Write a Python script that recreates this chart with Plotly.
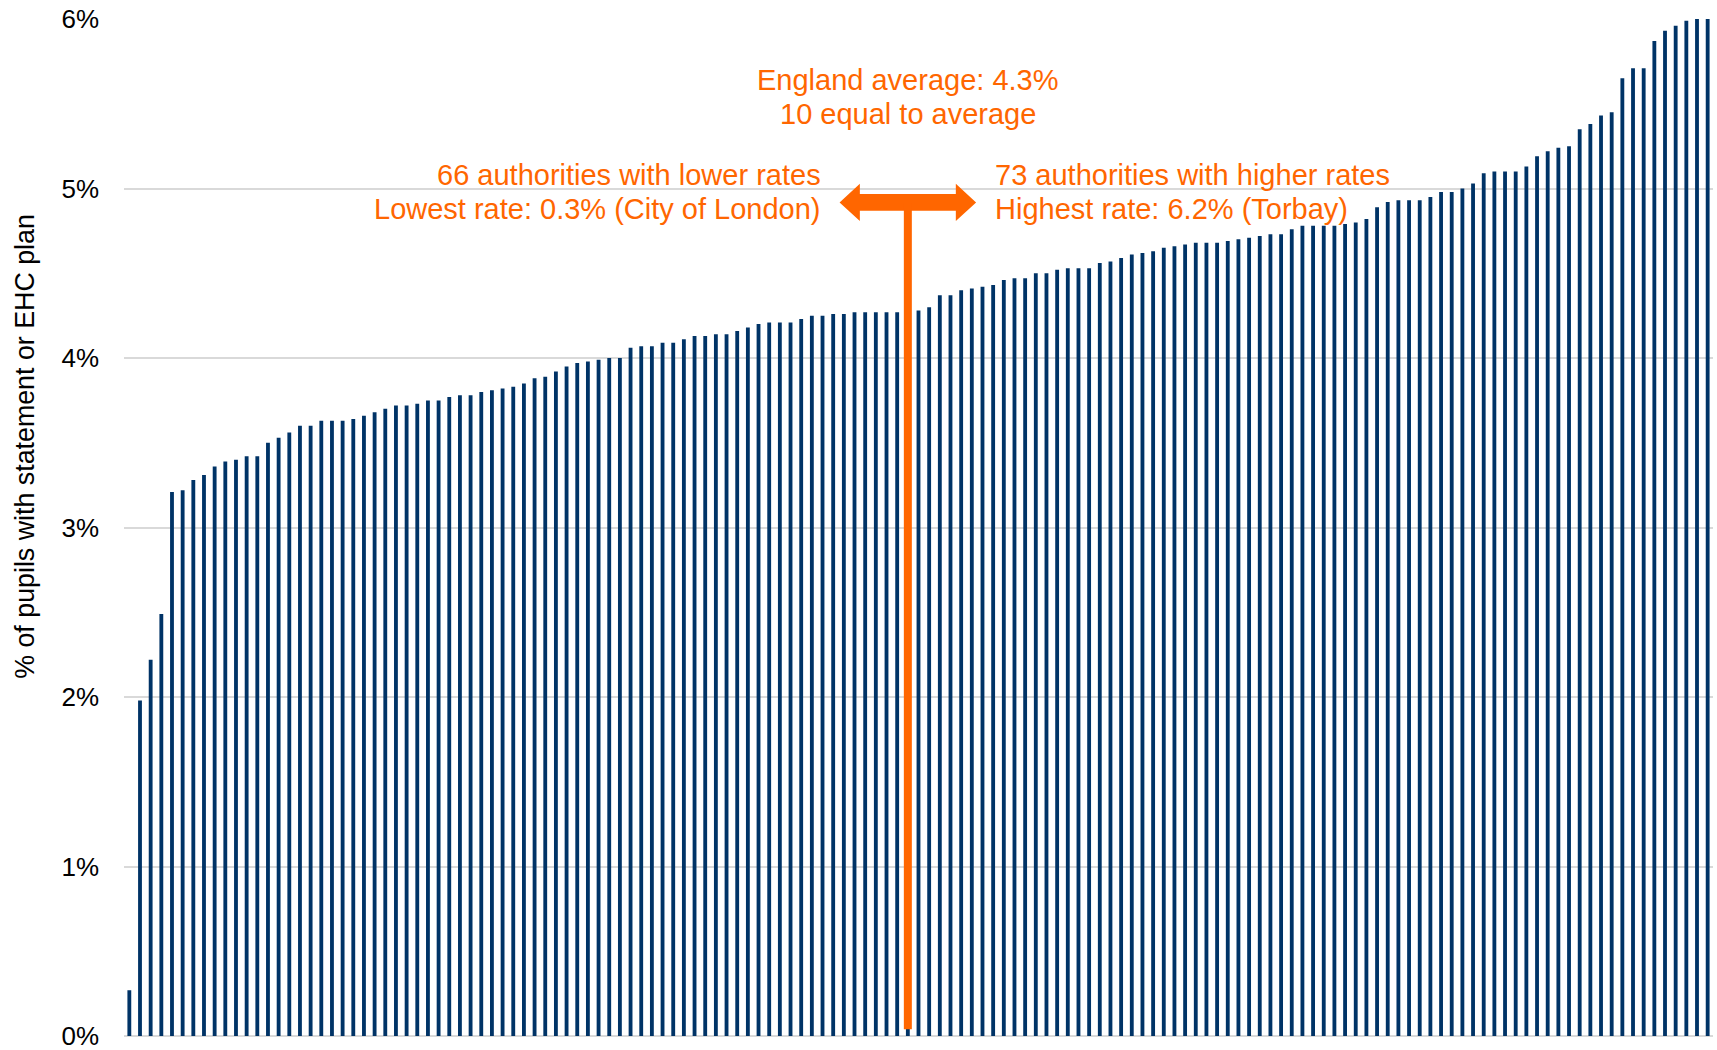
import plotly.graph_objects as go

# % of pupils with statement or EHC plan, local authorities sorted ascending
rates = [
    0.27, 1.98, 2.22, 2.49, 3.21, 3.22, 3.28, 3.31, 3.36, 3.39,
    3.40, 3.42, 3.42, 3.50, 3.53, 3.56, 3.60, 3.60, 3.63, 3.63,
    3.63, 3.64, 3.66, 3.68, 3.70, 3.72, 3.72, 3.73, 3.75, 3.75,
    3.77, 3.78, 3.78, 3.80, 3.81, 3.82, 3.83, 3.85, 3.88, 3.89,
    3.92, 3.95, 3.97, 3.98, 3.99, 4.00, 4.00, 4.06, 4.07, 4.07,
    4.09, 4.09, 4.11, 4.13, 4.13, 4.14, 4.14, 4.16, 4.18, 4.20,
    4.21, 4.21, 4.21, 4.23, 4.25, 4.25, 4.26, 4.26, 4.27, 4.27,
    4.27, 4.27, 4.27, 4.28, 4.28, 4.30, 4.37, 4.37, 4.40, 4.41,
    4.42, 4.43, 4.46, 4.47, 4.47, 4.50, 4.50, 4.52, 4.53, 4.53,
    4.53, 4.56, 4.57, 4.59, 4.61, 4.62, 4.63, 4.65, 4.66, 4.67,
    4.68, 4.68, 4.68, 4.69, 4.70, 4.71, 4.72, 4.73, 4.73, 4.76,
    4.78, 4.78, 4.78, 4.78, 4.79, 4.80, 4.82, 4.89, 4.92, 4.93,
    4.93, 4.93, 4.95, 4.98, 4.98, 5.00, 5.03, 5.09, 5.10, 5.10,
    5.10, 5.13, 5.19, 5.22, 5.24, 5.25, 5.35, 5.38, 5.43, 5.45,
    5.65, 5.71, 5.71, 5.87, 5.93, 5.96, 5.99, 6.05, 6.20,
]
ranks = list(range(1, len(rates) + 1))

y_ticks = [0, 1, 2, 3, 4, 5, 6]
y_tick_labels = ["0%", "1%", "2%", "3%", "4%", "5%", "6%"]

n_lower = 66
n_equal = 10
n_higher = 73
england_avg = 4.3
lowest_text = "0.3% (City of London)"
highest_text = "6.2% (Torbay)"

NAVY = "#003366"
ORANGE = "#FF6600"
GRID = "#d9d9d9"
FONT = "Arial, Liberation Sans, sans-serif"

fig = go.Figure()
fig.add_trace(go.Bar(
    x=ranks, y=rates,
    marker=dict(color=NAVY, line=dict(width=0)),
    hoverinfo="y",
))

# average marker: the bar under the vertical line (middle of the 'equal' group)
avg_pos = n_lower + 8
arrow_y = 4.918
half_span = 6.4
head_len = 1.9
shaft_h = 0.05
head_h = 0.11

path = (
    f"M {avg_pos - half_span},{arrow_y} "
    f"L {avg_pos - half_span + head_len},{arrow_y + head_h} "
    f"L {avg_pos - half_span + head_len},{arrow_y + shaft_h} "
    f"L {avg_pos + half_span - head_len},{arrow_y + shaft_h} "
    f"L {avg_pos + half_span - head_len},{arrow_y + head_h} "
    f"L {avg_pos + half_span},{arrow_y} "
    f"L {avg_pos + half_span - head_len},{arrow_y - head_h} "
    f"L {avg_pos + half_span - head_len},{arrow_y - shaft_h} "
    f"L {avg_pos - half_span + head_len},{arrow_y - shaft_h} "
    f"L {avg_pos - half_span + head_len},{arrow_y - head_h} Z"
)
fig.add_shape(type="path", path=path, xref="x", yref="y",
              fillcolor=ORANGE, line=dict(width=0), layer="above")
fig.add_shape(type="line", xref="x", yref="y",
              x0=avg_pos, x1=avg_pos, y0=0.04, y1=arrow_y,
              line=dict(color=ORANGE, width=8), layer="above")

ann_font = dict(family=FONT, size=29, color=ORANGE)


def label(text, x, y, anchor):
    fig.add_annotation(
        x=x, y=y, xref="x", yref="y", text=text, showarrow=False,
        xanchor=anchor, yanchor="middle", align=anchor,
        font=ann_font,
    )


label(f"England average: {england_avg}%", avg_pos, 5.64, "center")
label(f"{n_equal} equal to average", avg_pos, 5.44, "center")
label(f"{n_lower} authorities with lower rates", avg_pos - 8.0, 5.08, "right")
label(f"Lowest rate: {lowest_text}", avg_pos - 8.0, 4.88, "right")
label(f"{n_higher} authorities with higher rates", avg_pos + 8.0, 5.08, "left")
label(f"Highest rate: {highest_text}", avg_pos + 8.0, 4.88, "left")

fig.add_annotation(
    x=-0.0625, y=0.58, xref="paper", yref="paper",
    text="% of pupils with statement or EHC plan",
    showarrow=False, textangle=-90, xanchor="center", yanchor="middle",
    font=dict(family=FONT, size=26.8, color="#000000"),
)

fig.update_layout(
    width=1717, height=1050,
    margin=dict(l=124, r=4, t=19, b=14),
    paper_bgcolor="white", plot_bgcolor="white",
    bargap=0.64,
    showlegend=False,
    font=dict(family=FONT, size=26, color="#000000"),
)
fig.update_xaxes(
    range=[0.5, len(rates) + 0.5],
    showticklabels=False, showgrid=False, zeroline=False, showline=False,
    ticks="", automargin=False,
)
fig.update_yaxes(
    range=[0, 6], tickvals=y_ticks, ticktext=y_tick_labels,
    showgrid=True, gridcolor=GRID, gridwidth=2,
    zeroline=True, zerolinecolor=GRID, zerolinewidth=2,
    showline=False, ticks="", ticklabelstandoff=24, automargin=False,
    ticklabeloverflow="allow",
    tickfont=dict(family=FONT, size=26, color="#000000"),
)

fig.write_html(
    "out.html",
    config={"displayModeBar": False},
    post_script="document.body.style.margin='0';document.body.style.overflow='hidden';",
)
